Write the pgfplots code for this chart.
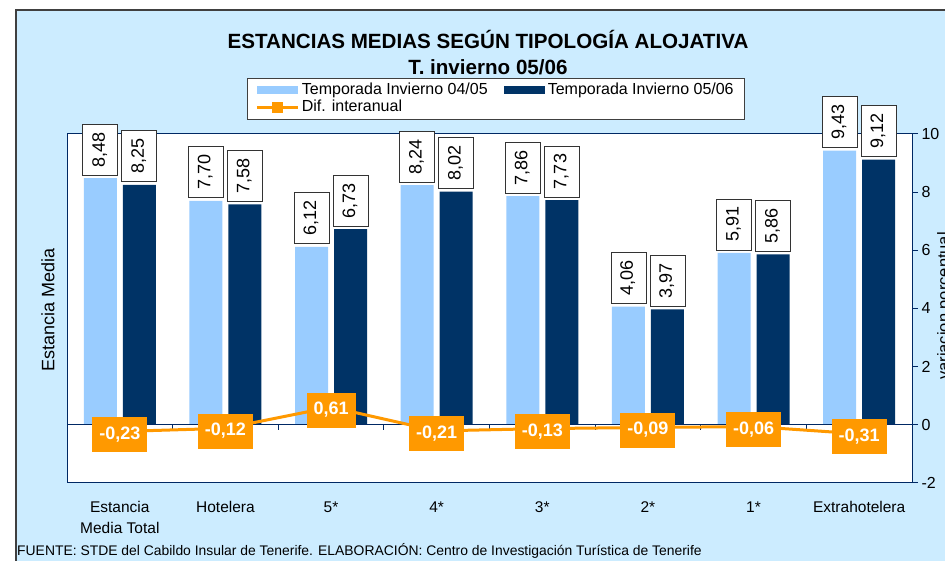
\documentclass[border=0pt]{standalone}
\usepackage{fontspec}
\setmainfont{Liberation Sans}
\usepackage{pgfplots}
\pgfplotsset{compat=1.18}
\definecolor{lightbar}{RGB}{153,204,255}
\definecolor{darkbar}{RGB}{0,51,102}
\definecolor{orangeline}{RGB}{255,153,0}
\definecolor{bgblue}{RGB}{204,236,255}
\definecolor{axisblue}{RGB}{0,40,100}
\tikzset{
    barlabel/.style={rotate=90, anchor=west, fill=white, draw=black!80, line width=0.8pt,
        font=\fontsize{18}{20}\selectfont, text=black, inner xsep=8pt, inner ysep=9pt,
        text height=13pt, text depth=4pt, outer sep=3pt},
    linelabel/.style={anchor=center, fill=orangeline, text=white,
        font=\bfseries\fontsize{18}{20}\selectfont, inner xsep=7pt, inner ysep=9pt,
        text height=13pt, text depth=4pt, yshift=-3pt}
}
\begin{document}
\begin{tikzpicture}
\useasboundingbox (0pt,0pt) rectangle (945pt,561pt);
\fill[white] (0pt,0pt) rectangle (945pt,561pt);
\fill[bgblue] (16pt,-5pt) rectangle (950pt,551pt);
\draw[line width=2pt, black!75] (16pt,-5pt) -- (16pt,551pt) -- (950pt,551pt);

% titles
\node[font=\bfseries\fontsize{20.6}{22}\selectfont] at (488pt,522pt) {ESTANCIAS MEDIAS SEGÚN TIPOLOGÍA ALOJATIVA};
\node[font=\bfseries\fontsize{20.6}{22}\selectfont] at (488pt,494pt) {T. invierno 05/06};

\begin{axis}[
    at={(67pt,78pt)}, anchor=south west,
    scale only axis, width=845pt, height=349pt,
    xmin=-0.5, xmax=7.5, ymin=-2, ymax=10,
    axis background/.style={fill=white},
    axis line style={draw=axisblue, line width=1pt},
    clip=false,
    xtick={0,...,7},
    xticklabels={{Estancia\\Media Total},Hotelera,5*,4*,3*,2*,1*,Extrahotelera},
    x tick style={draw=none},
    xticklabel style={font=\fontsize{15.5}{21}\selectfont, align=center, yshift=-9pt},
    ytick={-2,0,...,10},
    ytick pos=right,
    tick align=outside,
    y tick style={draw=axisblue, line width=1pt},
    major tick length=6pt,
    yticklabel style={font=\fontsize{16}{18}\selectfont},
    /pgf/number format/assume math mode=true,
    legend columns=2,
    legend cell align=left,
    legend style={at={(0.213,1.1605)}, anchor=north west, fill=white, draw=black!75,
        line width=0.8pt, font=\fontsize{16}{16}\selectfont,
        inner xsep=8pt, inner ysep=3.5pt,
        nodes={inner sep=2.5pt, inner ysep=1.5pt, text height=11pt, text depth=3pt},
        /tikz/every even column/.append style={column sep=14pt}},
]
\addplot[ybar, bar width=33pt, bar shift=-19.5pt, fill=lightbar, draw=none,
    legend image code/.code={\fill[lightbar] (0pt,-4pt) rectangle (41pt,4pt);},
    nodes near coords={\pgfmathprintnumber[fixed,fixed zerofill,precision=2,use comma]{\pgfplotspointmeta}},
    every node near coord/.append style={xshift=-19.5pt, barlabel}]
    coordinates {(0,8.48) (1,7.70) (2,6.12) (3,8.24) (4,7.86) (5,4.06) (6,5.91) (7,9.43)};
\addlegendentry{Temporada Invierno 04/05}
\addplot[ybar, bar width=33pt, bar shift=19.5pt, fill=darkbar, draw=none,
    legend image code/.code={\fill[darkbar] (0pt,-4pt) rectangle (41pt,4pt);},
    nodes near coords={\pgfmathprintnumber[fixed,fixed zerofill,precision=2,use comma]{\pgfplotspointmeta}},
    every node near coord/.append style={xshift=19.5pt, barlabel}]
    coordinates {(0,8.25) (1,7.58) (2,6.73) (3,8.02) (4,7.73) (5,3.97) (6,5.86) (7,9.12)};
\addlegendentry{Temporada Invierno 05/06}

% zero line with category ticks
\draw[axisblue, line width=1pt] (axis cs:-0.5,0) -- (axis cs:7.5,0);
\pgfplotsinvokeforeach{0.5,1.5,2.5,3.5,4.5,5.5,6.5}{
    \draw[axisblue, line width=1pt] (axis cs:#1,0) -- ++(0pt,-5pt);
}

\addplot[sharp plot, color=orangeline, line width=3pt, mark=none,
    legend image code/.code={\draw[orangeline, line width=3pt] (0pt,0pt) -- (41pt,0pt);
        \fill[orangeline] (16.5pt,-4pt) rectangle (24.5pt,4pt);},
    nodes near coords={\pgfmathprintnumber[fixed,fixed zerofill,precision=2,use comma]{\pgfplotspointmeta}},
    every node near coord/.append style={linelabel}]
    coordinates {(0,-0.23) (1,-0.12) (2,0.61) (3,-0.21) (4,-0.13) (5,-0.09) (6,-0.06) (7,-0.31)};
\addlegendentry{Dif. interanual}
\end{axis}

% axis titles
\node[rotate=90, font=\fontsize{18}{20}\selectfont] at (48pt,251pt) {Estancia Media};
\node[rotate=90, anchor=north, inner sep=0pt, font=\fontsize{16.5}{18}\selectfont] at (937pt,255pt) {variacion porcentual};

% source
\node[anchor=west, inner sep=0pt, font=\fontsize{13.9}{15}\selectfont] at (17pt,10pt)
    {FUENTE: STDE del Cabildo Insular de Tenerife. ELABORACIÓN: Centro de Investigación Turística de Tenerife};
\end{tikzpicture}
\end{document}
